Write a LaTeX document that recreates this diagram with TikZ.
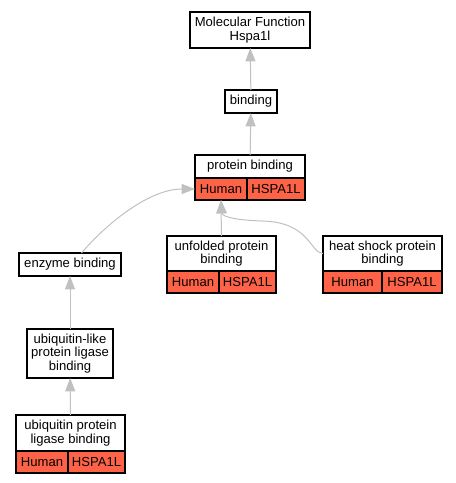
\documentclass[tikz,border=0pt]{standalone}
\usepackage{fontspec}
\setmainfont{Liberation Sans}
\usepackage{xcolor}
\usetikzlibrary{arrows.meta, positioning}
\definecolor{hitred}{HTML}{FF6347}
\definecolor{edgegray}{HTML}{C0C0C0}

\begin{document}
\begin{tikzpicture}[
        x=0.75pt, y=-0.75pt,
        every node/.style={font=\fontsize{9.8}{10}\selectfont, text=black, align=center, outer sep=0pt, inner sep=1pt},
        term/.style={draw=black, line width=0.8pt, fill=white, rectangle},
        cell/.style={draw=black, line width=0.8pt, fill=hitred, rectangle, minimum height=16.5pt},
        edge/.style={-{Triangle[length=10pt, width=7.5pt]}, draw=edgegray, line width=0.75pt}
    ]
        \useasboundingbox (0,0) rectangle (456,483);

        \node[term, minimum width=90pt, minimum height=27pt] (mf) at (250,30) {Molecular Function\\Hspa1l};
        \node[term, minimum width=39pt, minimum height=17.25pt] (bind) at (251,101.5) {binding};

        \node[term, minimum width=82.5pt, minimum height=17.25pt] (pb) at (250,166.5) {protein binding};
        \node[cell, minimum width=39pt, below right=0pt and 0pt of pb.south west] (pbh) {Human};
        \node[cell, minimum width=43.5pt, right=0pt of pbh] (pbg) {HSPA1L};

        \node[term, minimum width=76.5pt, minimum height=17.25pt] (enz) at (70,264.5) {enzyme binding};

        \node[term, minimum width=81.75pt, minimum height=26.25pt] (unf) at (221.5,253.5) {unfolded protein\\binding};
        \node[cell, minimum width=39pt, below right=0pt and 0pt of unf.south west] (unfh) {Human};
        \node[cell, minimum width=42.75pt, right=0pt of unfh] (unfg) {HSPA1L};

        \node[term, minimum width=89.25pt, minimum height=26.25pt] (heat) at (382.5,253.5) {heat shock protein\\binding};
        \node[cell, minimum width=44.25pt, below right=0pt and 0pt of heat.south west] (heath) {Human};
        \node[cell, minimum width=45pt, right=0pt of heath] (heatg) {HSPA1L};

        \node[term, minimum width=64.5pt, minimum height=36.75pt] (ubl) at (70,353.5) {ubiquitin-like\\protein ligase\\binding};

        \node[term, minimum width=81.75pt, minimum height=27pt] (upl) at (70.5,433) {ubiquitin protein\\ligase binding};
        \node[cell, minimum width=39pt, below right=0pt and 0pt of upl.south west] (uplh) {Human};
        \node[cell, minimum width=42.75pt, right=0pt of uplh] (uplg) {HSPA1L};

        \draw[edge] (bind) -- (mf);
        \draw[edge] (pb) -- (bind);
        \draw[edge] (unf) -- (pbh);
        \draw[edge] (heat.west) .. controls (310,253) and (310,222) .. (262,221) .. controls (232,220) and (222,216) .. (pbh.south);
        \draw[edge] (enz.45) .. controls (108,222) and (150,189) .. (pbh.west);
        \draw[edge] (ubl) -- (enz);
        \draw[edge] (upl) -- (ubl);
    \end{tikzpicture}
\end{document}
